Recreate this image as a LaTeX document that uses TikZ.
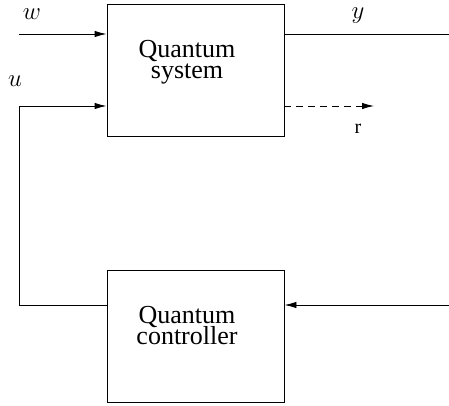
\documentclass[tikz,border=0pt]{standalone}
\usepackage{fontspec}
\setmainfont{Liberation Serif}
\usetikzlibrary{arrows.meta}
\begin{document}
\begin{tikzpicture}[x=1pt,y=-1pt,
  blk/.style={draw,line width=0.9pt,minimum width=177pt,minimum height=132pt,inner sep=0pt},
  conn/.style={line width=0.9pt},
  arr/.style={conn,-{Latex[length=12pt,width=6.5pt]}},
  lbl/.style={font=\fontsize{24}{24}\selectfont,inner sep=0pt},
  txt/.style={font=\fontsize{26}{26}\selectfont,inner sep=0pt,anchor=base}]
\useasboundingbox (0,0) rectangle (449,406);
\node[blk] (sys) at (195.5,70.5) {};
\node[blk] (ctl) at (195.5,336.5) {};
\node[txt] (sysa) at (187,58) {Quantum};
\node[txt] (sysb) at (187,79) {system};
\node[txt] (ctla) at (187,323) {Quantum};
\node[txt] (ctlb) at (187,344) {controller};
\coordinate (win) at (19,34);
\coordinate (uc) at (19,305);
\coordinate (yout) at (449,34);
\coordinate (rout) at (374,106);
\coordinate (cin) at (449,305);
\node[lbl] (wl) at (32,14) {$w$};
\node[lbl] (ul) at (15,81) {$u$};
\node[lbl] (yl) at (358,16) {$y$};
\node[font=\fontsize{20}{20}\selectfont,inner sep=0pt] (rl) at (358,129) {r};
\draw[arr] (win) -- (sys.west |- win);
\draw[conn] (sys.east |- yout) -- (yout);
\draw[arr,dashed,dash pattern=on 7pt off 5pt] (sys.east |- rout) -- (rout);
\draw[arr] (ctl.west |- uc) -- (uc) -- (19,106) -- (sys.west |- 0,106);
\draw[arr] (cin) -- (ctl.east |- cin);
\end{tikzpicture}
\end{document}
